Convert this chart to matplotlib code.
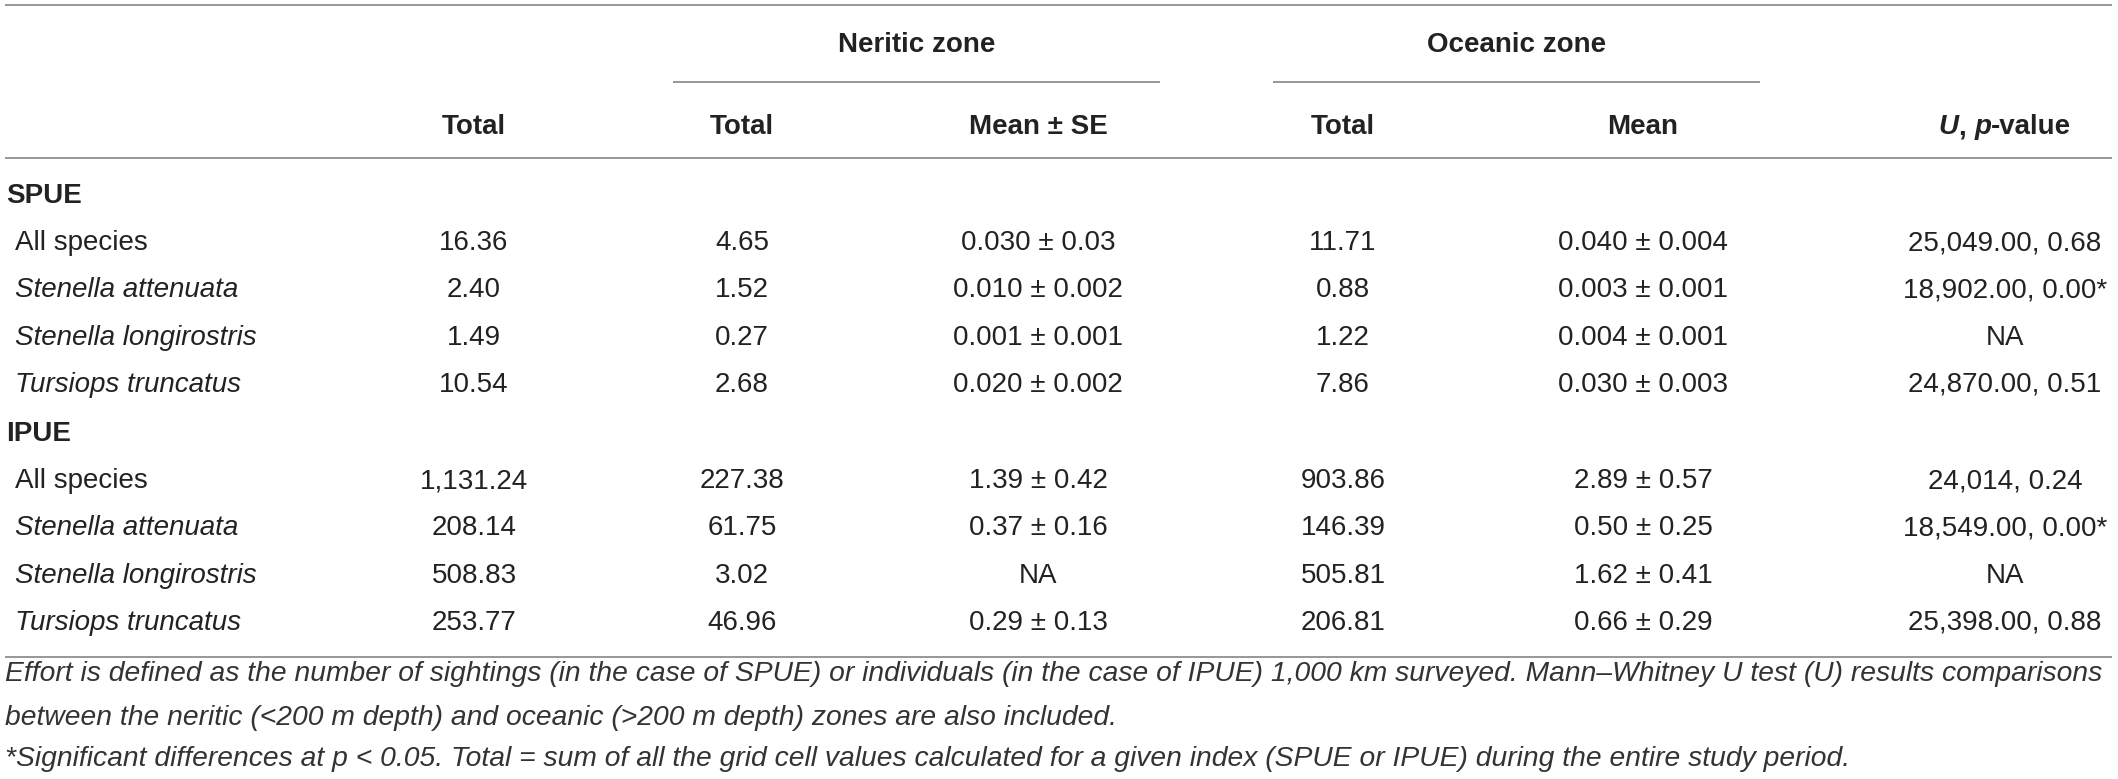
import matplotlib
matplotlib.use("Agg")
import matplotlib.pyplot as plt

plt.rcParams['font.family'] = ['Liberation Sans', 'DejaVu Sans']

# table content
groups = ["SPUE", "IPUE"]
species = ["All species", "Stenella attenuata", "Stenella longirostris", "Tursiops truncatus"]
species_italic = [False, True, True, True]

spue_total = ["16.36", "2.40", "1.49", "10.54"]
spue_ner_total = ["4.65", "1.52", "0.27", "2.68"]
spue_ner_mean = ["0.030 ± 0.03", "0.010 ± 0.002", "0.001 ± 0.001", "0.020 ± 0.002"]
spue_oce_total = ["11.71", "0.88", "1.22", "7.86"]
spue_oce_mean = ["0.040 ± 0.004", "0.003 ± 0.001", "0.004 ± 0.001", "0.030 ± 0.003"]
spue_u = ["25,049.00, 0.68", "18,902.00, 0.00*", "NA", "24,870.00, 0.51"]

ipue_total = ["1,131.24", "208.14", "508.83", "253.77"]
ipue_ner_total = ["227.38", "61.75", "3.02", "46.96"]
ipue_ner_mean = ["1.39 ± 0.42", "0.37 ± 0.16", "NA", "0.29 ± 0.13"]
ipue_oce_total = ["903.86", "146.39", "505.81", "206.81"]
ipue_oce_mean = ["2.89 ± 0.57", "0.50 ± 0.25", "1.62 ± 0.41", "0.66 ± 0.29"]
ipue_u = ["24,014, 0.24", "18,549.00, 0.00*", "NA", "25,398.00, 0.88"]

col_headers = ["Total", "Total", "Mean ± SE", "Total", "Mean"]
zone_headers = ["Neritic zone", "Oceanic zone"]

footnotes = [
    "Effort is defined as the number of sightings (in the case of SPUE) or individuals (in the case of IPUE) 1,000 km surveyed. Mann–Whitney U test (U) results comparisons",
    "between the neritic (<200 m depth) and oceanic (>200 m depth) zones are also included.",
    "*Significant differences at p < 0.05. Total = sum of all the grid cell values calculated for a given index (SPUE or IPUE) during the entire study period.",
]

W, H = 2118, 779
fig = plt.figure(figsize=(W / 100, H / 100), dpi=100)
ax = fig.add_axes([0, 0, 1, 1])
ax.set_xlim(0, W)
ax.set_ylim(H, 0)
ax.axis("off")
renderer = fig.canvas.get_renderer()

col_x = [474, 742, 1038, 1343, 1643, 2005]
zone_span = [(673, 1160), (1273, 1760)]
line_col = "#7a7a7a"
txt_col = "#222222"
fs = 20
cap = 10  # half cap height in px, for baseline placement


def hline(y, x0=5, x1=2112):
    ax.plot([x0, x1], [y, y], color=line_col, lw=1.1, solid_capstyle="butt")


def seg_text(xc, y, parts, **kw):
    # draw pieces side by side, centred on xc
    objs = []
    for s, st in parts:
        t = ax.text(0, y, s, style=st, va="baseline", ha="left", **kw)
        objs.append(t)
    widths = [t.get_window_extent(renderer).width for t in objs]
    x = xc - sum(widths) / 2
    for t, w in zip(objs, widths):
        t.set_x(x)
        x += w


# rules
hline(5)
for x0, x1 in zone_span:
    hline(82, x0, x1)
hline(158)
hline(657)

# headers
for (x0, x1), name in zip(zone_span, zone_headers):
    ax.text((x0 + x1) / 2, 42 + cap, name, ha="center", va="baseline",
            fontsize=fs, fontweight="bold", color=txt_col)
for x, h in zip(col_x[:5], col_headers):
    ax.text(x, 124 + cap, h, ha="center", va="baseline",
            fontsize=fs, fontweight="bold", color=txt_col)
seg_text(col_x[5], 124 + cap, [("U", "italic"), (", ", "normal"), ("p", "italic"), ("-value", "normal")],
         fontsize=fs, fontweight="bold", color=txt_col)

# body
blocks = [
    (spue_total, spue_ner_total, spue_ner_mean, spue_oce_total, spue_oce_mean, spue_u),
    (ipue_total, ipue_ner_total, ipue_ner_mean, ipue_oce_total, ipue_oce_mean, ipue_u),
]
group_y = [193, 431]
row_step = 47.2
for g, gy, cols in zip(groups, group_y, blocks):
    ax.text(6, gy + cap, g, ha="left", va="baseline", fontsize=fs, fontweight="bold", color=txt_col)
    for i, (sp, it) in enumerate(zip(species, species_italic)):
        y = gy + row_step * (i + 1) + cap
        ax.text(15, y, sp, ha="left", va="baseline", fontsize=fs,
                style="italic" if it else "normal", color=txt_col)
        for x, vals in zip(col_x, cols):
            ax.text(x, y, vals[i], ha="center", va="baseline", fontsize=fs, color=txt_col)

# footnotes, sized so the first line fills the width
foot_y = [673, 717, 758]
probe = ax.text(5, 0, footnotes[0], fontsize=18, style="italic")
w = probe.get_window_extent(renderer).width
probe.remove()
ffs = 18 * 2097 / w
for y, s in zip(foot_y, footnotes):
    ax.text(5, y + 8, s, ha="left", va="baseline", fontsize=ffs, style="italic", color="#333333")

fig.savefig("out.png", dpi=100, facecolor="white")
